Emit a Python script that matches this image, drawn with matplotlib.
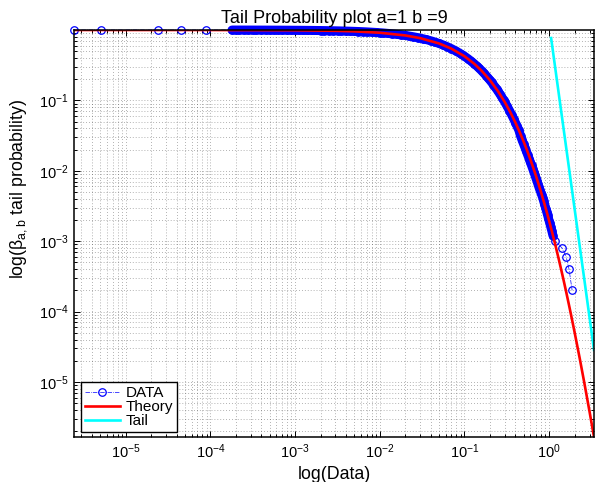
import numpy as np
import matplotlib
matplotlib.use("Agg")
import matplotlib.pyplot as plt
from matplotlib.ticker import LogLocator, NullFormatter, FixedLocator
from matplotlib.lines import Line2D

plt.rcParams['font.family'] = ['Liberation Sans', 'DejaVu Sans']
plt.rcParams['mathtext.fontset'] = 'custom'
plt.rcParams['mathtext.rm'] = 'Liberation Sans'
plt.rcParams['mathtext.it'] = 'Liberation Sans'
plt.rcParams['mathtext.default'] = 'regular'

# ---------------- data ----------------
data_x = [2.45e-6, 5.1e-6, 2.4e-5, 4.5e-5, 8.9e-5,
          1.8e-4, 2.0e-4, 2.2e-4, 2.5e-4, 2.8e-4, 3.2e-4, 3.5e-4, 4.0e-4, 4.5e-4,
          5.0e-4, 5.6e-4, 6.3e-4, 7.0e-4, 8.0e-4, 9.0e-4,
          1.0e-3, 1.1e-3, 1.25e-3, 1.4e-3, 1.6e-3, 1.8e-3, 2.0e-3, 2.2e-3, 2.5e-3,
          2.8e-3, 3.2e-3, 3.5e-3, 4.0e-3, 4.5e-3, 5.0e-3, 5.6e-3, 6.3e-3, 7.0e-3,
          8.0e-3, 9.0e-3,
          0.010, 0.011, 0.0125, 0.014, 0.016, 0.018, 0.020, 0.022, 0.025, 0.028,
          0.032, 0.035, 0.040, 0.045, 0.050, 0.056, 0.063, 0.070, 0.080, 0.090,
          0.10, 0.11, 0.12, 0.13, 0.14, 0.15, 0.16, 0.17, 0.18, 0.19,
          0.20, 0.21, 0.22, 0.23, 0.24, 0.25, 0.26, 0.27, 0.28, 0.29, 0.30,
          0.32, 0.34, 0.36, 0.38, 0.40, 0.42, 0.44, 0.46, 0.48, 0.50,
          0.52, 0.54, 0.56, 0.58, 0.60, 0.62, 0.64, 0.66, 0.68, 0.70,
          0.72, 0.74, 0.76, 0.78, 0.80, 0.82, 0.84, 0.86, 0.88, 0.90,
          0.92, 0.94, 0.96, 0.98, 1.00,
          1.02, 1.045, 1.076, 1.111, 1.18, 1.42, 1.59, 1.72, 1.87]
data_y = [0.9998, 0.9996, 0.9994, 0.9992, 0.9990,
          0.99838, 0.9982, 0.99802, 0.99775, 0.99748, 0.99712, 0.99685, 0.9964, 0.99595,
          0.9955, 0.99496, 0.99434, 0.99371, 0.99281, 0.99192,
          0.99104, 0.99015, 0.98881, 0.98748, 0.98570, 0.98393, 0.98218, 0.98042, 0.97778,
          0.97515, 0.97166, 0.96905, 0.96471, 0.96039, 0.95611, 0.95098, 0.94505, 0.93915,
          0.93081, 0.92253,
          0.91434, 0.90623, 0.89421, 0.88238, 0.86687, 0.85166, 0.83675, 0.82214, 0.80073, 0.77994,
          0.75315, 0.73373, 0.70259, 0.67292, 0.64461, 0.61238, 0.57702, 0.54393, 0.50025, 0.46042,
          0.42410, 0.39094, 0.36062, 0.33290, 0.30753, 0.28429, 0.26296, 0.24341, 0.22546, 0.20897,
          0.19381, 0.17986, 0.16701, 0.15519, 0.14428, 0.13422, 0.12493, 0.11635, 0.10842, 0.10108,
          0.09430,
          0.08219, 0.07179, 0.06283, 0.05509, 0.04840, 0.04260, 0.03756, 0.0312, 0.0272, 0.0240,
          0.0212, 0.0188, 0.0167, 0.0149, 0.0133, 0.0119, 0.0107, 0.0096, 0.0087, 0.0078,
          0.0071, 0.0064, 0.0058, 0.0053, 0.0049, 0.00450, 0.004137, 0.003753, 0.003409, 0.003099,
          0.002820, 0.002569, 0.002343, 0.002138, 0.001953,
          0.0018, 0.0016, 0.0014, 0.0012, 0.0010, 0.0008, 0.0006, 0.0004, 0.0002]
# first and last index of the densely packed part of the sample
dense_start, dense_end = 5, 119

theory_x = [2.45e-6, 1e-5, 1e-4, 1e-3, 3e-3, 5e-3, 0.01, 0.02, 0.03, 0.05, 0.07,
            0.10, 0.13, 0.16, 0.20, 0.25, 0.30, 0.35, 0.40, 0.45, 0.50, 0.55,
            0.60, 0.65, 0.70, 0.75, 0.80, 0.85, 0.90, 0.95, 1.00, 1.10, 1.20,
            1.30, 1.40, 1.50, 1.60, 1.70, 1.80, 2.00, 2.30, 2.60, 3.00, 3.39]
theory_y = [0.99998, 0.99991, 0.9991, 0.99104, 0.97340, 0.95611, 0.91434, 0.83675,
            0.76641, 0.64461, 0.54393, 0.42410, 0.33288, 0.26296, 0.19381, 0.13422,
            0.09430, 0.06714, 0.04840, 0.03529, 0.02601, 0.019365, 0.01455, 0.011032,
            0.008433, 0.006496, 0.005041, 0.003940, 0.003099, 0.002453, 0.001953,
            0.001259, 8.283e-4, 5.552e-4, 3.785e-4, 2.621e-4, 1.842e-4, 1.311e-4,
            9.453e-5, 5.081e-5, 2.155e-5, 9.846e-6, 3.815e-6, 1.651e-6]

tail_x = [1.056, 3.39]
tail_y = [0.769, 2.85e-5]

x_limits = [2.45e-6, 3.39]
y_limits = [1.651e-6, 0.9998]
x_ticks = [1e-5, 1e-4, 1e-3, 1e-2, 1e-1, 1e0]
y_ticks = [1e-5, 1e-4, 1e-3, 1e-2, 1e-1]

title_text = 'Tail Probability plot a=1 b =9'
x_label = 'log(Data)'
y_label = r'log($\beta_{a,b}$ tail probability)'
legend_labels = ['DATA', 'Theory', 'Tail']

# ---------------- figure ----------------
W, H = 596, 482
fig = plt.figure(figsize=(W / 100, H / 100), dpi=100)
L, R, T, B = 74, 594, 30, 437
ax = fig.add_axes([L / W, 1 - B / H, (R - L) / W, (B - T) / H])

BLUE, RED, CYAN = '#0000ff', '#ff0000', '#00ffff'

# dense overlapping circles of the sample form a solid band
ax.plot(data_x[dense_start:dense_end + 1], data_y[dense_start:dense_end + 1],
        color=BLUE, linewidth=6.5, solid_capstyle='round', solid_joinstyle='round',
        clip_on=False, zorder=3)
ax.plot(data_x, data_y, linestyle='-.', color=BLUE, linewidth=0.5,
        marker='o', markersize=5.4, markerfacecolor='none',
        markeredgecolor=BLUE, markeredgewidth=0.9, clip_on=False, zorder=3)
ax.plot(theory_x, theory_y, color=RED, linewidth=1.9, zorder=4)
ax.plot(tail_x, tail_y, color=CYAN, linewidth=1.9, zorder=4)

ax.set_xscale('log')
ax.set_yscale('log')
ax.set_xlim(x_limits)
ax.set_ylim(y_limits)

ax.xaxis.set_major_locator(FixedLocator(x_ticks))
ax.yaxis.set_major_locator(FixedLocator(y_ticks))
for axis in (ax.xaxis, ax.yaxis):
    axis.set_minor_locator(LogLocator(base=10, subs=np.arange(2, 10), numticks=100))
    axis.set_minor_formatter(NullFormatter())

ax.grid(True, which='both', linestyle=(0, (1, 2.5)), linewidth=0.6, color='0.2', alpha=0.5)
ax.set_axisbelow(True)

ax.tick_params(which='both', direction='in', top=True, right=True, width=0.7, colors='k')
ax.tick_params(which='major', length=4.5, labelsize=10.5, pad=4)
ax.tick_params(which='minor', length=2.5)
for s in ax.spines.values():
    s.set_linewidth(1.1)
    s.set_color('k')
    s.set_zorder(6)

ax.set_title(title_text, fontsize=13, pad=5)
ax.set_xlabel(x_label, fontsize=12.8, labelpad=3.2)
ax.set_ylabel(y_label, fontsize=12.8)
ax.yaxis.set_label_coords((29 - L) / (R - L), (B - 189) / (B - T))

handles = [Line2D([], [], linestyle='-.', color=BLUE, linewidth=0.5, marker='o',
                  markersize=5.4, markerfacecolor='none', markeredgecolor=BLUE,
                  markeredgewidth=0.9),
           Line2D([], [], color=RED, linewidth=1.9),
           Line2D([], [], color=CYAN, linewidth=1.9)]
leg = ax.legend(handles, legend_labels, loc='lower left',
                bbox_to_anchor=((81 - L) / (R - L), (B - 432) / (B - T)),
                borderaxespad=0, fontsize=11, frameon=True, fancybox=False,
                edgecolor='k', framealpha=1, handlelength=2.3, handletextpad=0.35,
                labelspacing=0.0, borderpad=0.25, numpoints=1)
leg.get_frame().set_linewidth(1.0)
leg.set_zorder(10)

fig.savefig('out.png', dpi=100)
